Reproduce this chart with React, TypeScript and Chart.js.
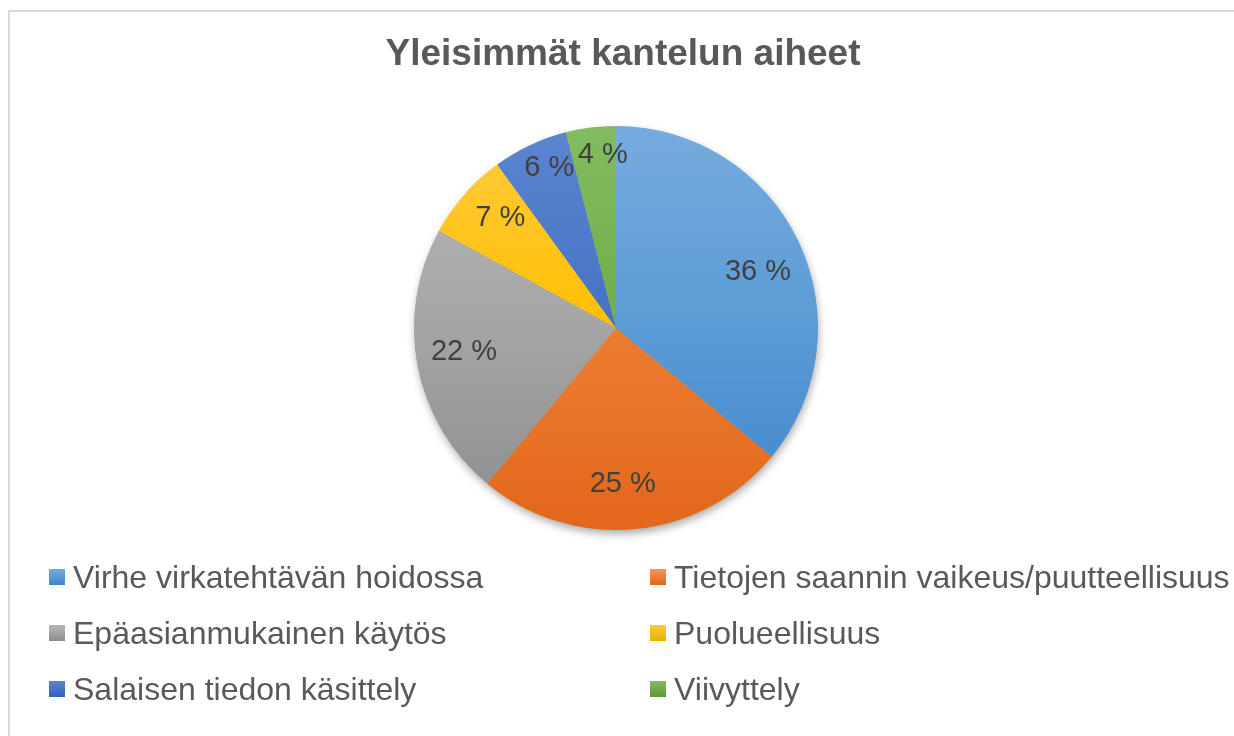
import { useEffect, useRef } from "react";
import { Chart, registerables } from "chart.js";

Chart.register(...registerables);

const titleText = "Yleisimmät kantelun aiheet";
const categories = [
  "Virhe virkatehtävän hoidossa",
  "Tietojen saannin vaikeus/puutteellisuus",
  "Epäasianmukainen käytös",
  "Puolueellisuus",
  "Salaisen tiedon käsittely",
  "Viivyttely",
];
const shares = [36, 25, 22, 7, 6, 4];

const baseColors = ["#5B9BD5", "#ED7D31", "#A5A5A5", "#FFC000", "#4472C4", "#70AD47"];
const lightColors = ["#76ABDE", "#F4955C", "#B8B8B8", "#FFCB40", "#5B85D0", "#82BC61"];
const darkColors = ["#3F85CC", "#E2671A", "#8C8C8C", "#E8AE00", "#3360B8", "#5C9A36"];

const FONT = "'Liberation Sans', Arial, sans-serif";

const shadowPlugin = {
  id: "pieShadow",
  beforeDatasetsDraw(chart: any) {
    const meta = chart.getDatasetMeta(0);
    const arc = meta.data[0];
    if (!arc) return;
    const { x, y, outerRadius } = arc.getProps(["x", "y", "outerRadius"], true);
    const ctx = chart.ctx;
    ctx.save();
    ctx.shadowColor = "rgba(0,0,0,0.35)";
    ctx.shadowBlur = 9;
    ctx.shadowOffsetX = 1;
    ctx.shadowOffsetY = 4;
    ctx.fillStyle = "#a0a0a0";
    ctx.beginPath();
    ctx.arc(x, y, outerRadius - 0.5, 0, Math.PI * 2);
    ctx.fill();
    ctx.restore();
  },
};

const labelPlugin = {
  id: "sliceLabels",
  afterDatasetsDraw(chart: any) {
    const meta = chart.getDatasetMeta(0);
    const ctx = chart.ctx;
    const size = 29;
    ctx.save();
    ctx.font = `${size}px ${FONT}`;
    ctx.fillStyle = "#404040";
    ctx.textAlign = "center";
    ctx.textBaseline = "alphabetic";
    meta.data.forEach((arc: any, i: number) => {
      const { x, y, startAngle, endAngle, outerRadius } = arc.getProps(
        ["x", "y", "startAngle", "endAngle", "outerRadius"],
        true
      );
      const mid = (startAngle + endAngle) / 2 + 0.05;
      const ratio = shares[i] >= 10 ? 0.76 : shares[i] >= 7 ? 0.8 : 0.87;
      const lx = x + Math.cos(mid) * outerRadius * ratio;
      const ly = y + Math.sin(mid) * outerRadius * ratio;
      ctx.fillText(`${shares[i]} %`, lx, ly + (size * 0.716) / 2);
    });
    ctx.restore();
  },
};

const titlePlugin = {
  id: "customTitle",
  afterDraw(chart: any) {
    const ctx = chart.ctx;
    ctx.save();
    ctx.font = `bold 37px ${FONT}`;
    ctx.fillStyle = "#595959";
    ctx.textAlign = "center";
    ctx.textBaseline = "alphabetic";
    ctx.fillText(titleText, 623, 65);
    ctx.restore();
  },
};

const legendPlugin = {
  id: "customLegend",
  afterDraw(chart: any) {
    const ctx = chart.ctx;
    const colX = [49, 650];
    const rowY = [577, 633, 689];
    ctx.save();
    ctx.font = `32px ${FONT}`;
    ctx.textAlign = "left";
    ctx.textBaseline = "alphabetic";
    categories.forEach((label, i) => {
      const cx = colX[i % 2];
      const cy = rowY[Math.floor(i / 2)];
      const g = ctx.createLinearGradient(0, cy - 8, 0, cy + 8);
      g.addColorStop(0, lightColors[i]);
      g.addColorStop(1, darkColors[i]);
      ctx.fillStyle = g;
      ctx.fillRect(cx, cy - 8, 16, 16);
      ctx.fillStyle = "#595959";
      ctx.fillText(label, cx + 24, cy + 11);
    });
    ctx.restore();
  },
};

export default function App() {
  const canvasRef = useRef<HTMLCanvasElement | null>(null);

  useEffect(() => {
    const canvas = canvasRef.current;
    if (!canvas) return;
    const chart = new Chart(canvas, {
      type: "pie",
      data: {
        labels: categories,
        datasets: [
          {
            data: shares,
            backgroundColor: (c: any) => {
              const area = c.chart.chartArea;
              if (!area) return baseColors[c.dataIndex];
              const g = c.chart.ctx.createLinearGradient(0, area.top, 0, area.bottom);
              g.addColorStop(0, lightColors[c.dataIndex]);
              g.addColorStop(0.5, baseColors[c.dataIndex]);
              g.addColorStop(1, darkColors[c.dataIndex]);
              return g;
            },
            borderWidth: 0,
            hoverOffset: 0,
            offset: 0,
          } as any,
        ],
      },
      options: {
        responsive: false,
        animation: false,
        events: [],
        layout: { padding: { top: 126, bottom: 206, left: 0, right: 2 } },
        plugins: {
          legend: { display: false },
          title: { display: false },
          tooltip: { enabled: false },
        },
      },
      plugins: [shadowPlugin, labelPlugin, titlePlugin, legendPlugin],
    });
    return () => chart.destroy();
  }, []);

  return (
    <>
      <div
        style={{
          position: "fixed",
          left: 8,
          top: 10,
          right: 0,
          bottom: 0,
          borderTop: "2px solid #D9D9D9",
          borderLeft: "2px solid #D9D9D9",
          background: "#ffffff",
        }}
      />
      <div style={{ position: "fixed", left: 0, top: 0, width: 1234, height: 736 }}>
        <canvas ref={canvasRef} width={1234} height={736} style={{ display: "block" }} />
      </div>
    </>
  );
}
